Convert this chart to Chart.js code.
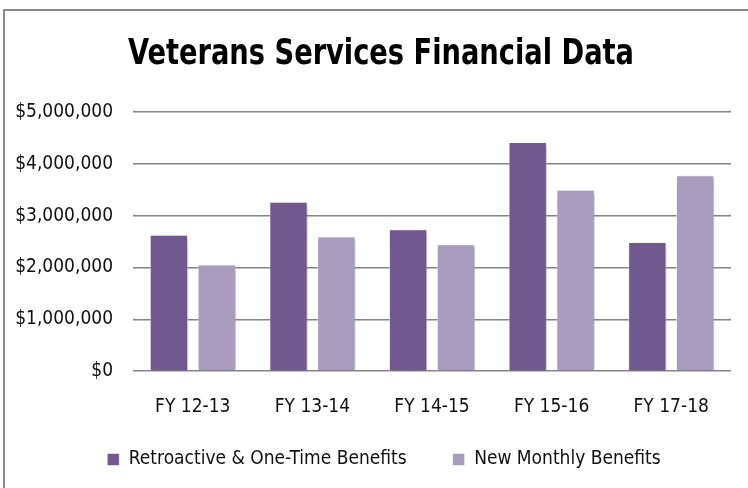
<!DOCTYPE html>
<html>
<head>
<meta charset="utf-8">
<script src="https://cdn.jsdelivr.net/npm/chart.js@4/dist/chart.umd.min.js"></script>
<style>
  html, body { margin: 0; padding: 0; background: #fff; overflow: hidden; width: 748px; height: 488px; }
  #frame { position: absolute; left: 3px; top: 9px; border-left: 2px solid #8b8b8b; border-top: 2px solid #8b8b8b; width: 756px; height: 506px; }
  canvas { display: block; }
</style>
</head>
<body>
<div id="frame"><canvas id="c" width="756" height="506"></canvas></div>
<script>
const categories = ['FY 12-13', 'FY 13-14', 'FY 14-15', 'FY 15-16', 'FY 17-18'];
const retroactiveBenefits = [2630000, 3270000, 2740000, 4420000, 2490000];
const monthlyBenefits = [2060000, 2600000, 2450000, 3500000, 3780000];
const seriesNames = ['Retroactive & One-Time Benefits', 'New Monthly Benefits'];
const titleText = 'Veterans Services Financial Data';
const yMax = 5000000;
const yStep = 1000000;

const FONT = "'DejaVu Sans Condensed', 'DejaVu Sans', sans-serif";
const TITLE_SCALE_X = 0.866;
const TITLE_SHIFT_X = 8;
const LEGEND_SHIFT_X = 11;
const LEGEND_LIFT = 38;

const shadowPlugin = {
  id: 'barShadow',
  beforeDatasetsDraw(chart) {
    const ctx = chart.ctx;
    ctx.save();
    ctx.shadowColor = 'rgba(0,0,0,0.28)';
    ctx.shadowBlur = 4;
    ctx.shadowOffsetX = 2;
    ctx.shadowOffsetY = 2;
  },
  afterDatasetsDraw(chart) {
    chart.ctx.restore();
  }
};

const layoutTweak = {
  id: 'layoutTweak',
  afterLayout(chart) {
    const t = chart.titleBlock;
    if (t) {
      t.left += TITLE_SHIFT_X; t.right += TITLE_SHIFT_X;
      if (!t._condensed) {
        const orig = t.draw;
        t.draw = function (area) {
          const ctx = this.ctx;
          const cx = (this.left + this.right) / 2;
          ctx.save();
          ctx.translate(cx, 0);
          ctx.scale(TITLE_SCALE_X, 1);
          ctx.translate(-cx, 0);
          orig.call(this, area);
          ctx.restore();
        };
        t._condensed = true;
      }
    }
    const l = chart.legend;
    if (l) {
      l.left += LEGEND_SHIFT_X; l.right += LEGEND_SHIFT_X;
      l.top -= LEGEND_LIFT; l.bottom -= LEGEND_LIFT;
    }
  }
};

new Chart(document.getElementById('c'), {
  type: 'bar',
  data: {
    labels: categories,
    datasets: [
      { label: seriesNames[0], data: retroactiveBenefits, backgroundColor: '#71588f', borderColor: 'rgba(255,255,255,0.55)', borderWidth: 1 },
      { label: seriesNames[1], data: monthlyBenefits, backgroundColor: '#a99bbe', borderColor: 'rgba(255,255,255,0.55)', borderWidth: 1 }
    ]
  },
  plugins: [shadowPlugin, layoutTweak],
  options: {
    responsive: false,
    animation: false,
    events: [],
    layout: { padding: { left: 10, right: 30, top: 0, bottom: 0 } },
    datasets: { bar: { categoryPercentage: 0.8, barPercentage: 0.8 } },
    plugins: {
      title: {
        display: true,
        text: titleText,
        color: '#000',
        font: { family: FONT, size: 35, weight: 'bold', lineHeight: 1.2 },
        padding: { top: 23, bottom: 36 }
      },
      legend: {
        display: true,
        position: 'bottom',
        labels: {
          color: '#111',
          font: { family: FONT, size: 19 },
          boxWidth: 12,
          boxHeight: 12,
          padding: 46
        }
      },
      tooltip: { enabled: false }
    },
    scales: {
      x: {
        grid: { display: false, drawTicks: false },
        border: { display: false },
        ticks: { color: '#111', font: { family: FONT, size: 19 }, padding: 24, maxRotation: 0, autoSkip: false }
      },
      y: {
        min: 0,
        max: yMax,
        grid: { color: '#858585', lineWidth: 1.5, drawTicks: false },
        border: { display: false },
        ticks: {
          stepSize: yStep,
          color: '#111',
          font: { family: FONT, size: 19 },
          padding: 20,
          callback: v => '$' + Number(v).toLocaleString('en-US')
        },
        afterFit(scale) { scale.width = 118; }
      }
    }
  }
});
</script>
</body>
</html>
